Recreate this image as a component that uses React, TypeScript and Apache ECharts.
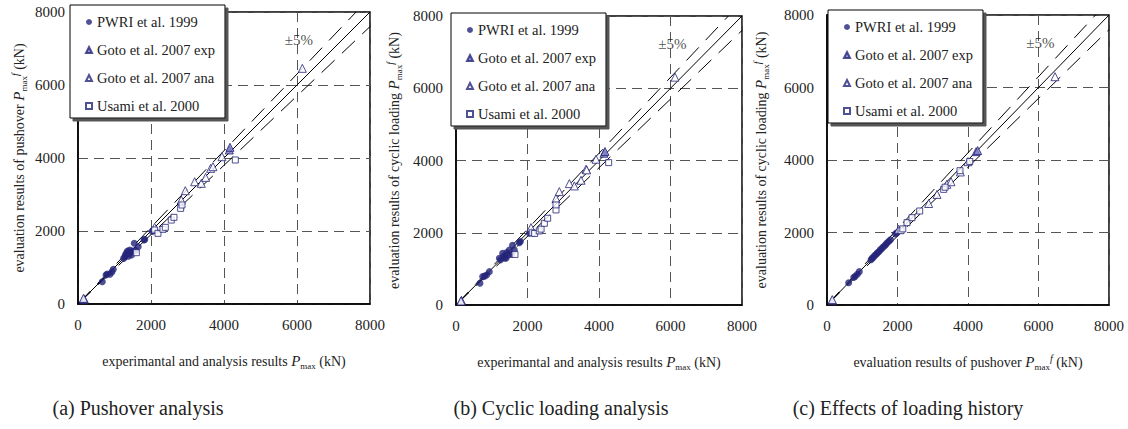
import React, { useEffect, useRef } from "react";
import * as echarts from "echarts";

// ---------- data ----------
const seriesNames = ["PWRI et al. 1999", "Goto et al. 2007 exp", "Goto et al. 2007 ana", "Usami et al. 2000"];
const panelTitles = ["(a) Pushover analysis", "(b) Cyclic loading analysis", "(c) Effects of loading history"];

// panel (a): x = experimental/analysis Pmax, y = pushover Pmax^f
const aPWRI = [[666,611],[767,794],[800,820],[877,813],[930,880],[968,950],[1250,1250],[1288,1297],[1300,1350],[1330,1400],[1358,1452],[1380,1310],[1400,1380],[1420,1480],[1440,1420],[1468,1342],[1500,1450],[1541,1662],[1580,1470],[1650,1571],[1808,1753],[1830,1770],[2064,2027],[2030,1990]];
const aGotoExp = [[150,130],[170,140],[4146,4219],[4164,4292]];
const aGotoAna = [[150,155],[2100,2100],[2830,2849],[2940,3104],[3196,3350],[3378,3305],[3497,3469],[3634,3716],[3698,3762],[3944,4035],[6146,6457]];
const aUsami = [[1598,1406],[2100,2027],[2191,1936],[2328,2045],[2392,2100],[2556,2300],[2629,2374],[2812,2620],[2849,2712],[4310,3945]];

// panel (b): x = experimental/analysis Pmax, y = cyclic loading Pmax^f
const bPWRI = [[671,600],[746,785],[800,800],[858,831],[932,923],[1212,1293],[1250,1250],[1305,1432],[1330,1350],[1360,1300],[1399,1293],[1420,1450],[1450,1380],[1492,1524],[1550,1400],[1632,1524],[1580,1650],[1772,1727],[1800,1760],[2051,1986]];
const bGotoExp = [[150,130],[4140,4200],[4168,4250]];
const bGotoAna = [[140,111],[2098,2142],[2797,2950],[2890,3139],[3170,3360],[3310,3296],[3497,3453],[3636,3758],[3655,3740],[3916,4035],[6126,6307]];
const bUsami = [[1650,1400],[2130,2000],[2200,1980],[2330,2050],[2380,2100],[2471,2262],[2564,2401],[2797,2632],[2797,2770],[4270,3942]];

// panel (c): x = pushover Pmax^f, y = cyclic loading Pmax^f
const cPWRI = [[615,616],[757,760],[800,790],[860,850],[917,920],[1250,1250],[1280,1290],[1320,1320],[1360,1370],[1400,1400],[1430,1440],[1470,1470],[1510,1520],[1550,1550],[1590,1600],[1630,1630],[1670,1670],[1700,1710],[1750,1750],[1800,1800],[1939,1959],[1980,1990]];
const cGotoExp = [[150,130],[4230,4230],[4274,4260]];
const cGotoAna = [[150,150],[2033,2088],[2884,2800],[3121,3051],[3400,3330],[3518,3400],[3783,3670],[4000,3954],[6468,6298]];
const cUsami = [[2100,2050],[2150,2100],[2270,2271],[2411,2409],[2629,2593],[3310,3190],[3350,3250],[3773,3705],[4050,3960]];

const refLine = [[0,0],[8000,8000]];
const upperLine = [[0,0],[7619,8000]];
const lowerLine = [[0,0],[8000,7600]];
const bandLabelPos = [[6050,7220]];

const panels = [
  { data: [aPWRI, aGotoExp, aGotoAna, aUsami], xName: "x", yName: "pushover" },
  { data: [bPWRI, bGotoExp, bGotoAna, bUsami], xName: "x", yName: "cyclic loading" },
  { data: [cPWRI, cGotoExp, cGotoAna, cUsami], xName: "pushover", yName: "cyclic loading" },
];

// ---------- layout/style ----------
const FONT = "'Liberation Serif', 'Times New Roman', serif";
const NAVY = "#24247a";
const TXT = "#222";
const grids = [
  { left: 78, top: 12, width: 292, height: 292 },
  { left: 456, top: 16, width: 286, height: 289 },
  { left: 827, top: 15, width: 282, height: 290 },
];
const legendPos = [
  { left: 70, top: 5 },
  { left: 451, top: 13 },
  { left: 828, top: 10 },
];
const yNameGap = [50, 53, 57];
const titleX = [138, 561, 908];

const rich = {
  t: { fontFamily: FONT, fontSize: 14, color: TXT, lineHeight: 18, verticalAlign: "middle" },
  i: { fontFamily: FONT, fontSize: 15, fontStyle: "italic", color: TXT, lineHeight: 18, verticalAlign: "middle" },
  sub: { fontFamily: FONT, fontSize: 9, color: TXT, lineHeight: 12, verticalAlign: "bottom" },
  sup: { fontFamily: FONT, fontSize: 10, fontStyle: "italic", color: TXT, lineHeight: 12, verticalAlign: "top" },
};

function axisName(kind: string) {
  if (kind === "x") return "{t|experimantal and analysis results }{i|P}{sub|max}{t| (kN)}";
  return "{t|evaluation results of " + kind + " }{i|P}{sub|max}{sup|f}{t| (kN)}";
}

export default function App() {
  const ref = useRef<HTMLDivElement>(null);
  useEffect(() => {
    if (!ref.current) return;
    const chart = echarts.init(ref.current, undefined, { renderer: "svg" });

    const xAxis: any[] = [];
    const yAxis: any[] = [];
    const series: any[] = [];
    const legend: any[] = [];
    const common = (i: number) => ({
      gridIndex: i,
      type: "value",
      min: 0,
      max: 8000,
      interval: 2000,
      axisLine: { show: true, lineStyle: { color: "#000", width: 1.5 } },
      axisTick: { show: false },
      axisLabel: {
        fontFamily: FONT, fontSize: 15, color: TXT, margin: 13,
        formatter: (v: number) => String(v),
      },
      splitLine: { show: true, lineStyle: { color: "#555", width: 1, type: [10, 6] } },
    });

    panels.forEach((p, i) => {
      xAxis.push({
        ...common(i),
        name: axisName(p.xName),
        nameLocation: "middle",
        nameGap: 48,
        nameTextStyle: { fontFamily: FONT, rich },
      });
      yAxis.push({
        ...common(i),
        name: axisName(p.yName),
        nameLocation: "middle",
        nameGap: yNameGap[i],
        nameRotate: 90,
        nameTextStyle: { fontFamily: FONT, rich },
      });
      const base = { xAxisIndex: i, yAxisIndex: i };
      series.push({
        ...base, type: "line", data: refLine, symbol: "none", silent: true, z: 1,
        lineStyle: { color: "#000", width: 1 },
      });
      series.push({
        ...base, type: "line", data: upperLine, symbol: "none", silent: true, z: 1,
        lineStyle: { color: "#000", width: 1, type: [18, 10] },
      });
      series.push({
        ...base, type: "line", data: lowerLine, symbol: "none", silent: true, z: 1,
        lineStyle: { color: "#000", width: 1, type: [18, 10] },
      });
      series.push({
        ...base, type: "scatter", data: bandLabelPos, symbolSize: 0, silent: true,
        label: { show: true, position: "inside", formatter: "±5%", fontFamily: FONT, fontSize: 15, color: TXT },
      });
      series.push({
        ...base, type: "scatter", name: seriesNames[0], data: p.data[0], symbol: "circle", symbolSize: 7,
        itemStyle: { color: NAVY }, z: 3,
      });
      series.push({
        ...base, type: "scatter", name: seriesNames[1], data: p.data[1], symbol: "triangle", symbolSize: 8,
        itemStyle: { color: "#8282c6", borderColor: NAVY, borderWidth: 1 }, z: 4,
      });
      series.push({
        ...base, type: "scatter", name: seriesNames[2], data: p.data[2], symbol: "triangle", symbolSize: 8,
        itemStyle: { color: "#fff", borderColor: NAVY, borderWidth: 1 }, z: 4,
      });
      series.push({
        ...base, type: "scatter", name: seriesNames[3], data: p.data[3], symbol: "rect", symbolSize: 6,
        itemStyle: { color: "#fff", borderColor: NAVY, borderWidth: 1 }, z: 4,
      });
      legend.push({
        ...legendPos[i],
        orient: "vertical",
        data: seriesNames,
        itemWidth: 6,
        itemHeight: 6,
        itemGap: 12,
        itemTextGap: 7,
        padding: [9, 10, 4, 15],
        backgroundColor: "#fff",
        borderColor: "#000",
        borderWidth: 1,
        shadowColor: "#555",
        shadowBlur: 0,
        shadowOffsetX: 3,
        shadowOffsetY: 3,
        selectedMode: false,
        textStyle: { fontFamily: FONT, fontSize: 14.5, color: TXT, lineHeight: 16 },
        z: 10,
      });
    });

    chart.setOption({
      animation: false,
      backgroundColor: "#fff",
      textStyle: { fontFamily: FONT },
      grid: grids.map((g) => ({ ...g, show: true, borderColor: "#000", borderWidth: 1.5, backgroundColor: "transparent" })),
      xAxis,
      yAxis,
      legend,
      series,
      graphic: panelTitles.map((t, i) => ({
        type: "text",
        x: titleX[i],
        y: 408,
        style: {
          text: t,
          font: "20px 'Liberation Serif', 'Times New Roman', serif",
          fill: TXT,
          textAlign: "center",
          textVerticalAlign: "middle",
        },
      })),
    });
    return () => chart.dispose();
  }, []);
  return (
    <div
      ref={ref}
      style={{ position: "fixed", left: 0, top: 0, width: 1128, height: 429, background: "#fff" }}
    />
  );
}
